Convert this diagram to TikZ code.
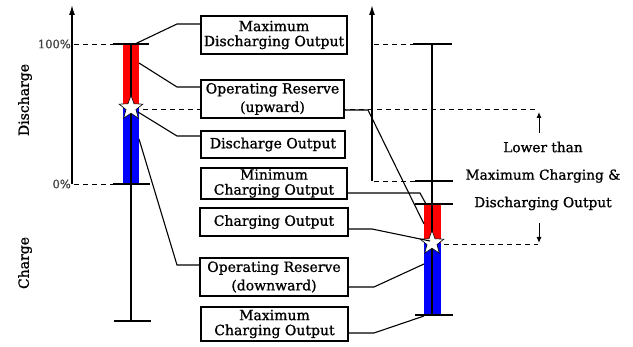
\documentclass[tikz,border=0pt]{standalone}
\usepackage{fontspec}
\setmainfont{DejaVu Serif}[FakeBold=1]
\usetikzlibrary{shapes.geometric,arrows.meta}
\begin{document}
\begin{tikzpicture}[x=1pt,y=-1pt,
  axisline/.style={line width=1.4pt,-{Latex[length=10pt,width=6pt]}},
  barline/.style={line width=2.8pt},
  capline/.style={line width=2.8pt},
  guide/.style={dashed,dash pattern=on 5pt off 4pt,line width=0.9pt},
  conn/.style={line width=1.1pt},
  lblbox/.style={draw,line width=1.2pt,fill=white,inner sep=0pt,align=center,font=\fontsize{14}{15}\selectfont},
  starnode/.style={star,star points=5,star point ratio=2.4,draw,fill=white,minimum size=25pt,inner sep=0pt,line width=0.6pt},
  pct/.style={anchor=east,inner sep=0pt,text=black!75,font=\fontsize{11.5}{12}\selectfont},
  sidelbl/.style={rotate=90,inner sep=0pt,font=\fontsize{14}{14}\selectfont},
  smallarrow/.style={line width=1pt,-{Latex[length=6pt,width=5pt]}}
]
\useasboundingbox (0,0) rectangle (633,347);

% dashed guides
\draw[guide] (74,44) -- (113,44);
\draw[guide] (74,184) -- (113,184);
\draw[guide] (374,44) -- (413,44);
\draw[guide] (374,181) -- (415,181);
\coordinate (gEnd1) at (538,109);
\coordinate (gEnd2) at (538,244);
\draw[guide] (143,109) -- (gEnd1);
\draw[guide] (444,244) -- (gEnd2);

% axes
\coordinate (aL0) at (72,184); \coordinate (aLt) at (72,5);
\coordinate (aR0) at (372,181); \coordinate (aRt) at (372,5);
\draw[axisline] (aL0) -- (aLt);
\draw[axisline] (aR0) -- (aRt);

% left bar
\fill[red] (123,44) rectangle (139,108);
\fill[blue] (123,108) rectangle (139,184);
\draw[barline] (131,44) -- (131,321);
\draw[capline] (113,44) -- (149,44);
\draw[capline] (113,184) -- (150,184);
\draw[capline] (114,321) -- (151,321);
\node[starnode] (sL) at (131,108) {};

% right bar
\fill[red] (424,204) rectangle (441,243);
\fill[blue] (424,243) rectangle (441,315);
\draw[barline] (432,44) -- (432,315);
\draw[capline] (413,44) -- (452,44);
\draw[capline] (415,181) -- (453,181);
\draw[capline] (415,204) -- (453,204);
\draw[capline] (415,315) -- (453,315);
\node[starnode] (sR) at (432,243) {};

% percent and side labels
\node[pct] (p100) at (71,44) {100\%};
\node[pct] (p0) at (71,184) {0\%};
\node[sidelbl] (dis) at (25,100) {Discharge};
\node[sidelbl] (chg) at (25,263) {Charge};

% boxes
\node[lblbox,minimum width=146pt,minimum height=38pt] (b1) at (274,35) {Maximum\\Discharging Output};
\node[lblbox,minimum width=143pt,minimum height=38pt,font=\fontsize{14}{18.5}\selectfont] (b2) at (272.5,99) {Operating Reserve\\(upward)};
\node[lblbox,minimum width=144pt,minimum height=27pt] (b3) at (273,144.5) {Discharge Output};
\node[lblbox,minimum width=146pt,minimum height=31pt] (b4) at (274,183.5) {Minimum\\Charging Output};
\node[lblbox,minimum width=148pt,minimum height=28pt] (b5) at (274,222) {Charging Output};
\node[lblbox,minimum width=148pt,minimum height=38pt,font=\fontsize{14}{18.5}\selectfont] (b6) at (274,277) {Operating Reserve\\(downward)};
\node[lblbox,minimum width=147pt,minimum height=34pt] (b7) at (274.5,324) {Maximum\\Charging Output};

% right text
\node[align=center,inner sep=0pt,font=\fontsize{13.7}{27.5}\selectfont] (note) at (543,176) {Lower than\\Maximum Charging \&\\Discharging Output};
\coordinate (uA) at (539,133); \coordinate (uB) at (539,112);
\coordinate (dA) at (539,223); \coordinate (dB) at (539,243);
\draw[smallarrow] (uA) -- (uB);
\draw[smallarrow] (dA) -- (dB);

% left connectors
\coordinate (t1) at (135,44);  \coordinate (k1) at (177,24);
\coordinate (t2) at (139,63);  \coordinate (k2) at (177,87);
\coordinate (t3) at (138,112); \coordinate (k3) at (177,136);
\coordinate (t6) at (139,139); \coordinate (k6) at (177,265);
\draw[conn] (t1) -- (k1) -- (k1 -| b1.west);
\draw[conn] (t2) -- (k2) -- (k2 -| b2.west);
\draw[conn] (t3) -- (k3) -- (k3 -| b3.west);
\draw[conn] (t6) -- (k6) -- (k6 -| b6.west);

% right connectors
\coordinate (q2) at (368,110); \coordinate (r2) at (424,224);
\coordinate (q4) at (420,193); \coordinate (r4) at (426,204);
\coordinate (q5) at (372,229); \coordinate (r5) at (430,241);
\coordinate (q6) at (374,287); \coordinate (r6) at (424,264);
\coordinate (q7) at (374,333); \coordinate (r7) at (424,316);
\draw[conn] (q2 -| b2.east) -- (q2) -- (r2);
\draw[conn] (q4 -| b4.east) -- (q4) -- (r4);
\draw[conn] (q5 -| b5.east) -- (q5) -- (r5);
\draw[conn] (q6 -| b6.east) -- (q6) -- (r6);
\draw[conn] (q7 -| b7.east) -- (q7) -- (r7);
\end{tikzpicture}
\end{document}
